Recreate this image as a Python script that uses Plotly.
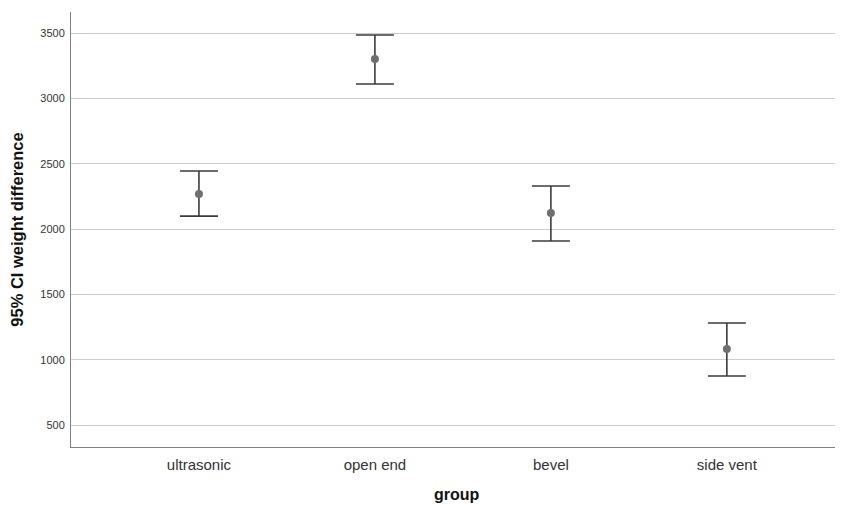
import plotly.graph_objects as go

groups = ["ultrasonic", "open end", "bevel", "side vent"]
means = [2268, 3301, 2122, 1082]
upper = [2444, 3485, 2329, 1281]
lower = [2099, 3110, 1908, 875]

err_plus = [u - m for u, m in zip(upper, means)]
err_minus = [m - l for m, l in zip(means, lower)]

fig = go.Figure()
fig.add_trace(go.Scatter(
    x=groups, y=means, mode="markers",
    marker=dict(color="#6f6f6f", size=8),
    error_y=dict(type="data", symmetric=False, array=err_plus, arrayminus=err_minus,
                 color="#3c3c3c", thickness=1.6, width=19),
    showlegend=False,
))

fig.update_layout(
    width=835, height=497,
    margin=dict(l=63, r=0, t=4, b=58),
    paper_bgcolor="white", plot_bgcolor="white",
    font=dict(family="Arial, Liberation Sans, sans-serif", color="#222"),
)
fig.update_xaxes(
    range=[-0.727, 3.66], showgrid=False, showline=True, linecolor="#808080", linewidth=1,
    ticks="", tickfont=dict(size=15, color="#333"), ticklabelstandoff=4, automargin=False,
)
fig.add_annotation(
    text="<b>group</b>", xref="paper", yref="paper", x=0.5, y=0, yshift=-47,
    xanchor="center", yanchor="middle", showarrow=False,
    font=dict(size=16, color="#111"),
)
fig.update_yaxes(
    range=[332, 3661], tickvals=[500, 1000, 1500, 2000, 2500, 3000, 3500],
    showgrid=True, gridcolor="#cccccc", gridwidth=1, zeroline=False,
    showline=True, linecolor="#808080", linewidth=1,
    ticks="", tickfont=dict(size=11, color="#333"), ticklabelstandoff=3,
    title=dict(text="<b>95% CI weight difference</b>", font=dict(size=16.5, color="#111"), standoff=12),
)

fig.write_html("out.html")
